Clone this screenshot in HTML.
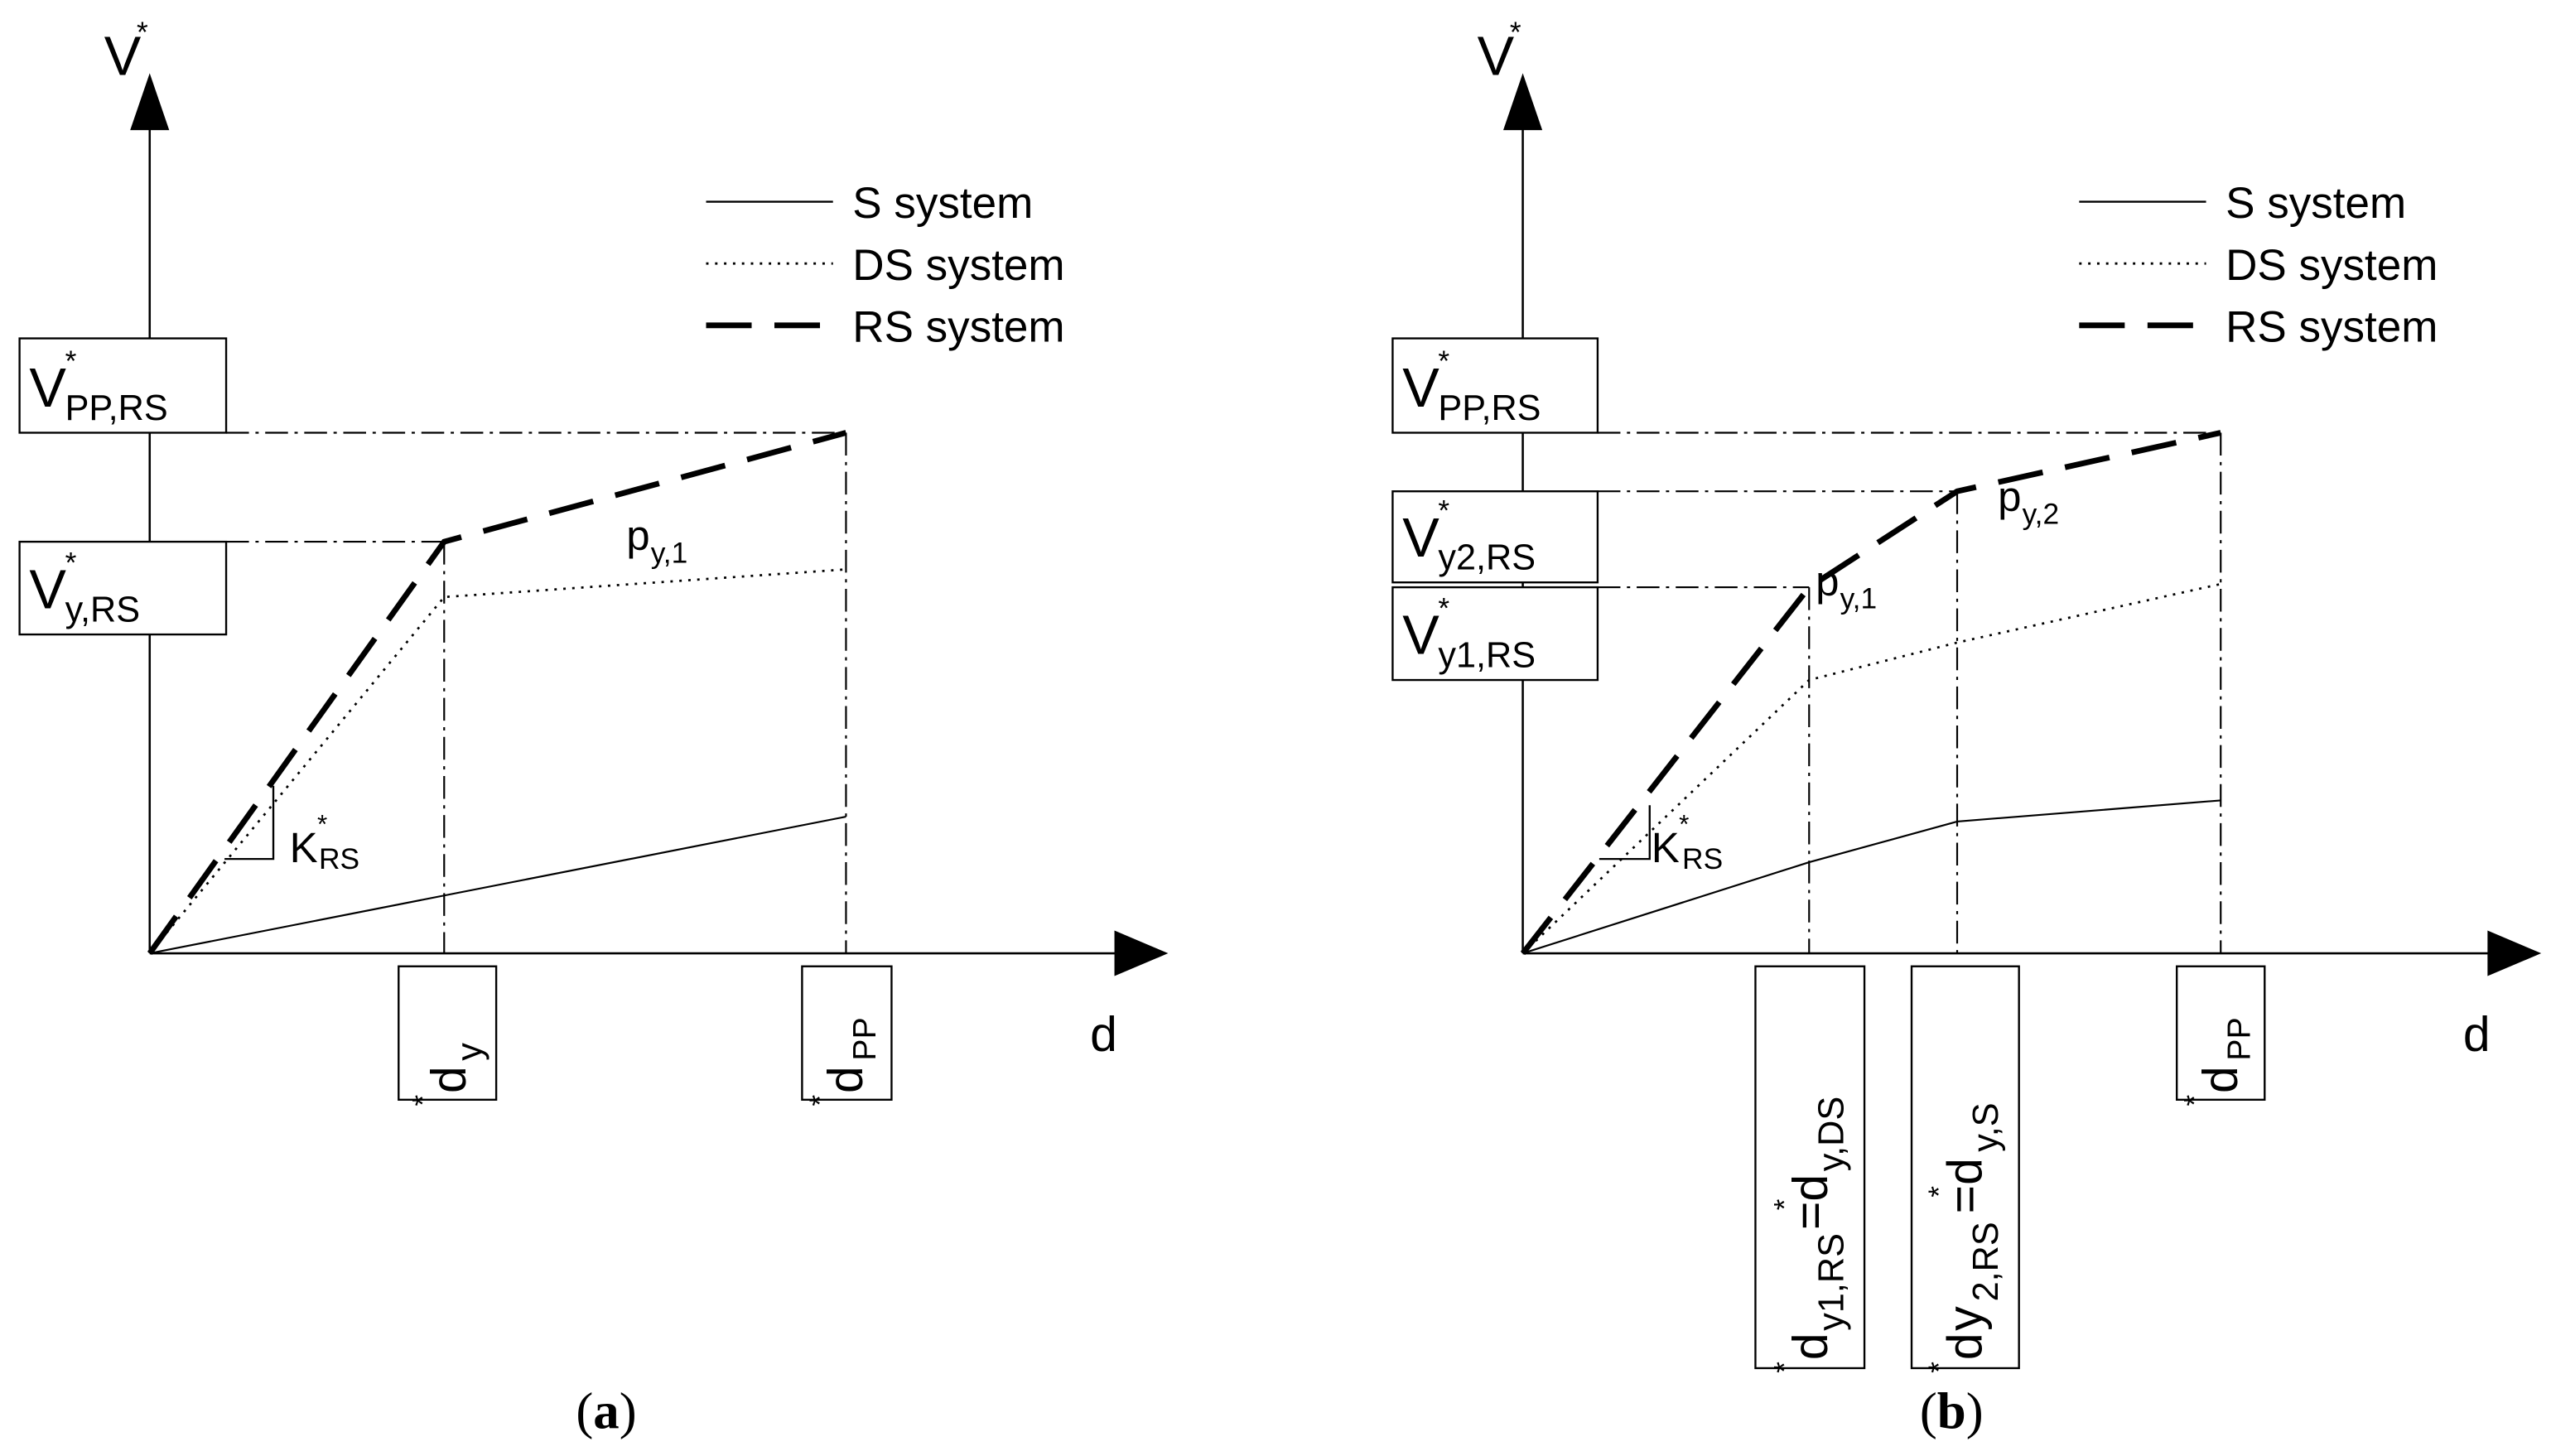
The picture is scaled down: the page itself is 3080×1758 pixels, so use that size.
<!DOCTYPE html>
<html><head><meta charset="utf-8"><style>html,body{margin:0;padding:0;background:#fff}svg{display:block}</style></head><body>
<svg width="3080" height="1758" viewBox="0 0 1568 895" xmlns="http://www.w3.org/2000/svg" font-family="Liberation Sans, sans-serif" fill="#000">
<defs>
<g id="legend">
<line x1="0" y1="0" x2="78" y2="0" stroke="#000" stroke-width="1.2"/>
<line x1="0" y1="38" x2="78" y2="38" stroke="#000" stroke-width="1.5" stroke-dasharray="1.5,4"/>
<line x1="0" y1="76" x2="78" y2="76" stroke="#000" stroke-width="3.5" stroke-dasharray="28,14"/>
<text x="90" y="10" font-size="27">S system</text>
<text x="90" y="48" font-size="27">DS system</text>
<text x="90" y="86" font-size="27">RS system</text>
</g>
</defs>
<g stroke="#000" fill="none">
<!-- panel a axes -->
<line x1="92" y1="586" x2="92" y2="78" stroke-width="1.3"/>
<line x1="92" y1="586" x2="688" y2="586" stroke-width="1.3"/>
<!-- panel b axes -->
<line x1="936" y1="586" x2="936" y2="78" stroke-width="1.3"/>
<line x1="936" y1="586" x2="1532" y2="586" stroke-width="1.3"/>
<!-- boxes a -->
<rect x="12" y="208" width="127" height="58" stroke-width="1.2" fill="#fff"/>
<rect x="12" y="333" width="127" height="57" stroke-width="1.2" fill="#fff"/>
<rect x="245" y="594" width="60" height="82" stroke-width="1.2"/>
<rect x="493" y="594" width="55" height="82" stroke-width="1.2"/>
<!-- boxes b -->
<rect x="856" y="208" width="126" height="58" stroke-width="1.2" fill="#fff"/>
<rect x="856" y="302" width="126" height="56" stroke-width="1.2" fill="#fff"/>
<rect x="856" y="361" width="126" height="57" stroke-width="1.2" fill="#fff"/>
<rect x="1079" y="594" width="67" height="247" stroke-width="1.2"/>
<rect x="1175" y="594" width="66" height="247" stroke-width="1.2"/>
<rect x="1338" y="594" width="54" height="82" stroke-width="1.2"/>
<!-- dash-dot a -->
<g stroke-width="1.1" stroke-dasharray="14,4,2,4">
<line x1="139" y1="266" x2="520" y2="266"/>
<line x1="139" y1="333" x2="273" y2="333"/>
<line x1="273" y1="333" x2="273" y2="586"/>
<line x1="520" y1="266" x2="520" y2="586"/>
<line x1="982" y1="266" x2="1365" y2="266"/>
<line x1="982" y1="302" x2="1203" y2="302"/>
<line x1="982" y1="361" x2="1112" y2="361"/>
<line x1="1112" y1="361" x2="1112" y2="586"/>
<line x1="1203" y1="302" x2="1203" y2="586"/>
<line x1="1365" y1="266" x2="1365" y2="586"/>
</g>
<!-- curves a -->
<polyline points="92,586 520,502" stroke-width="1.1"/>
<polyline points="92,586 273,367 520,350" stroke-width="1.4" stroke-dasharray="1.5,4"/>
<polyline points="92,586 273,333 520,266" stroke-width="3.5" stroke-dasharray="28,14"/>
<polyline points="138,528 168,528 168,483" stroke-width="1.2"/>
<!-- curves b -->
<polyline points="936,586 1112,530 1203,505 1365,492" stroke-width="1.1"/>
<polyline points="936,586 1112,418 1203,395 1365,359" stroke-width="1.4" stroke-dasharray="1.5,4"/>
<polyline points="936,586 1112,361 1203,302 1365,266" stroke-width="3.5" stroke-dasharray="28,14"/>
<polyline points="983,528 1014,528 1014,495" stroke-width="1.2"/>
</g>
<!-- arrows -->
<polygon points="92,45 80,80 104,80"/>
<polygon points="718,586 685,572 685,600"/>
<polygon points="936,45 924,80 948,80"/>
<polygon points="1562,586 1529,572 1529,600"/>
<!-- legends -->
<use href="#legend" x="434" y="124"/>
<use href="#legend" x="1278" y="124"/>
<!-- texts a -->
<text x="64" y="46" font-size="34">V</text><text x="84" y="26" font-size="18">*</text>
<text x="18" y="250" font-size="34">V</text><text x="40" y="228" font-size="18">*</text><text x="40" y="258" font-size="22">PP,RS</text>
<text x="18" y="374" font-size="34">V</text><text x="40" y="352" font-size="18">*</text><text x="40" y="382" font-size="22">y,RS</text>
<text x="385" y="338" font-size="26">p</text><text x="400" y="346" font-size="18">y,1</text>
<text x="178" y="530" font-size="26">K</text><text x="195" y="512" font-size="16">*</text><text x="196" y="534" font-size="18">RS</text>
<text x="670" y="646" font-size="30">d</text>
<g transform="translate(286,672) rotate(-90)"><text x="0" y="0" font-size="30">d</text><text x="-8" y="-20" font-size="18">*</text><text x="20" y="10" font-size="22">y</text></g>
<g transform="translate(530,672) rotate(-90)"><text x="0" y="0" font-size="30">d</text><text x="-8" y="-20" font-size="18">*</text><text x="20" y="8" font-size="20">PP</text></g>
<text x="354" y="878" font-size="32" font-family="Liberation Serif, serif">(<tspan font-weight="bold">a</tspan>)</text>
<!-- texts b -->
<text x="908" y="46" font-size="34">V</text><text x="928" y="26" font-size="18">*</text>
<text x="862" y="250" font-size="34">V</text><text x="884" y="228" font-size="18">*</text><text x="884" y="258" font-size="22">PP,RS</text>
<text x="862" y="342" font-size="34">V</text><text x="884" y="320" font-size="18">*</text><text x="884" y="350" font-size="22">y2,RS</text>
<text x="862" y="402" font-size="34">V</text><text x="884" y="380" font-size="18">*</text><text x="884" y="410" font-size="22">y1,RS</text>
<text x="1116" y="366" font-size="26">p</text><text x="1131" y="374" font-size="18">y,1</text>
<text x="1228" y="314" font-size="26">p</text><text x="1243" y="322" font-size="18">y,2</text>
<text x="1015" y="530" font-size="26">K</text><text x="1032" y="512" font-size="16">*</text><text x="1034" y="534" font-size="18">RS</text>
<text x="1514" y="646" font-size="30">d</text>
<g transform="translate(1123,836) rotate(-90)"><text x="0" y="0" font-size="30">d</text><text x="-8" y="-20" font-size="18">*</text><text x="18" y="10" font-size="22">y1,RS</text><text x="80" y="0" font-size="30">=d</text><text x="92" y="-20" font-size="18">*</text><text x="116" y="10" font-size="22">y,DS</text></g>
<g transform="translate(1218,836) rotate(-90)"><text x="0" y="0" font-size="30">d</text><text x="-8" y="-20" font-size="18">*</text><text x="18" y="0" font-size="30">y</text><text x="36" y="10" font-size="22">2,RS</text><text x="90" y="0" font-size="30">=d</text><text x="100" y="-20" font-size="18">*</text><text x="128" y="10" font-size="22">y,S</text></g>
<g transform="translate(1375,672) rotate(-90)"><text x="0" y="0" font-size="30">d</text><text x="-8" y="-20" font-size="18">*</text><text x="20" y="8" font-size="20">PP</text></g>
<text x="1180" y="878" font-size="32" font-family="Liberation Serif, serif">(<tspan font-weight="bold">b</tspan>)</text>
</svg>
</body></html>
